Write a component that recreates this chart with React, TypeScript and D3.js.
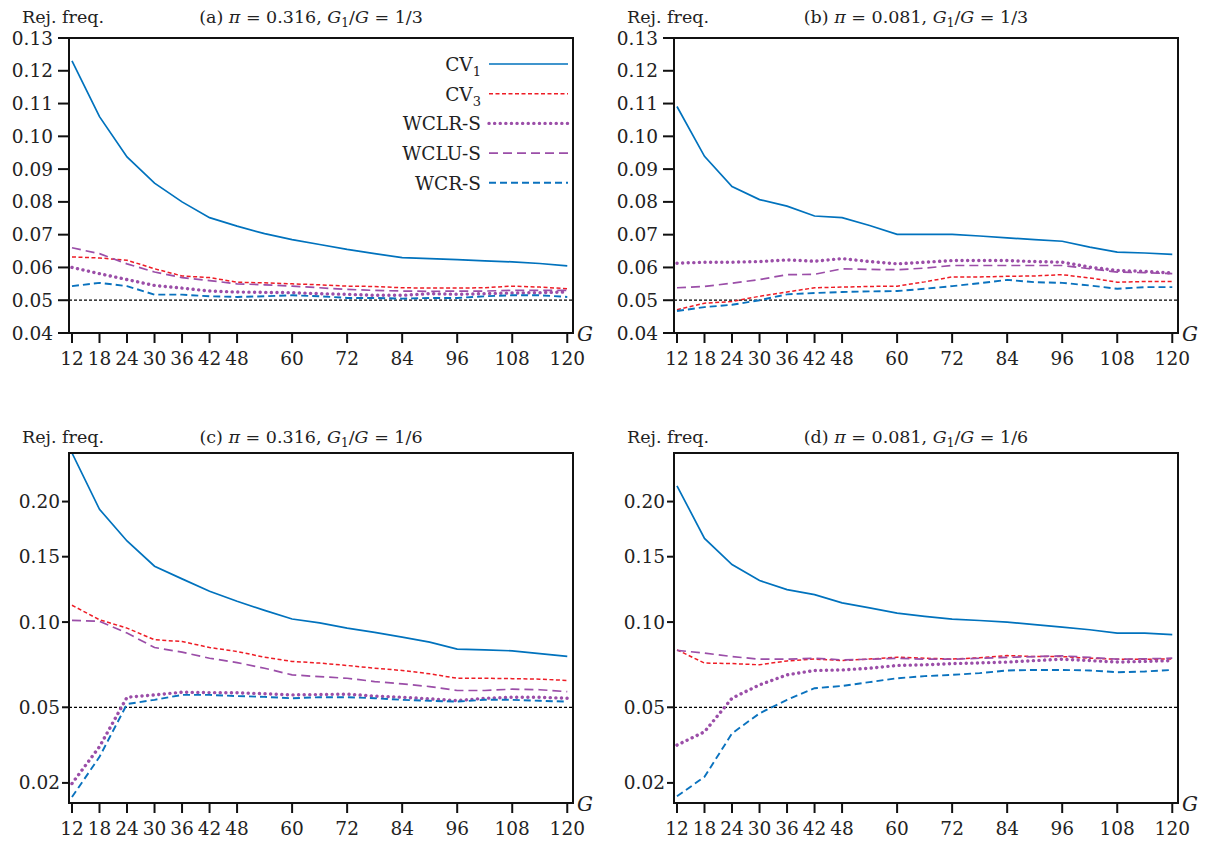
import React from "react";
import * as d3 from "d3";

const G = [12, 18, 24, 30, 36, 42, 48, 54, 60, 66, 72, 78, 84, 90, 96, 102, 108, 114, 120];
const xTicks = [12, 18, 24, 30, 36, 42, 48, 60, 72, 84, 96, 108, 120];
const yTicksTop = [0.04, 0.05, 0.06, 0.07, 0.08, 0.09, 0.1, 0.11, 0.12, 0.13];
const yTicksBottom = [0.02, 0.05, 0.1, 0.15, 0.2];
const seriesNames = ["CV1", "CV3", "WCLR-S", "WCLU-S", "WCR-S"];

// panel (a)
const aCV1 = [0.123, 0.106, 0.0937, 0.0857, 0.08, 0.0752, 0.0726, 0.0703, 0.0685, 0.067, 0.0655, 0.0642, 0.063, 0.0627, 0.0624, 0.062, 0.0617, 0.0612, 0.0605];
const aCV3 = [0.0632, 0.0629, 0.0622, 0.0596, 0.0574, 0.0569, 0.0555, 0.0553, 0.055, 0.0547, 0.0543, 0.0542, 0.0538, 0.0537, 0.0537, 0.0538, 0.0543, 0.054, 0.0535];
const aWCLR = [0.06, 0.0581, 0.0563, 0.0545, 0.0537, 0.0528, 0.0525, 0.0524, 0.0523, 0.052, 0.0518, 0.0515, 0.0515, 0.052, 0.0518, 0.052, 0.0522, 0.0523, 0.0525];
const aWCLU = [0.066, 0.0642, 0.0611, 0.0586, 0.0569, 0.056, 0.055, 0.0547, 0.0543, 0.0538, 0.0533, 0.053, 0.0528, 0.0527, 0.0528, 0.0528, 0.053, 0.053, 0.053];
const aWCR = [0.0543, 0.0553, 0.0543, 0.0517, 0.0517, 0.0512, 0.051, 0.0512, 0.0515, 0.0512, 0.0507, 0.0507, 0.0505, 0.0507, 0.0507, 0.0512, 0.0515, 0.0515, 0.051];
// panel (b)
const bCV1 = [0.1091, 0.0939, 0.0847, 0.0807, 0.0787, 0.0757, 0.0752, 0.0728, 0.0701, 0.0701, 0.0701, 0.0696, 0.069, 0.0685, 0.068, 0.0662, 0.0647, 0.0644, 0.064];
const bCV3 = [0.0471, 0.0491, 0.0496, 0.0512, 0.0525, 0.0538, 0.054, 0.0542, 0.0543, 0.0556, 0.0571, 0.0571, 0.0573, 0.0574, 0.0578, 0.0568, 0.0555, 0.0557, 0.0557];
const bWCLR = [0.0613, 0.0616, 0.0616, 0.0618, 0.0623, 0.0619, 0.0627, 0.0618, 0.0611, 0.0616, 0.0621, 0.0621, 0.0621, 0.0618, 0.0616, 0.0601, 0.0591, 0.0588, 0.0583];
const bWCLU = [0.0538, 0.0542, 0.0552, 0.0563, 0.0578, 0.0579, 0.0596, 0.0594, 0.0593, 0.0598, 0.0606, 0.0606, 0.0606, 0.0606, 0.0606, 0.0596, 0.0586, 0.0584, 0.0581];
const bWCR = [0.0467, 0.0479, 0.0486, 0.05, 0.0518, 0.0522, 0.0525, 0.0527, 0.0528, 0.0535, 0.0543, 0.0552, 0.0562, 0.0555, 0.0553, 0.0545, 0.0535, 0.054, 0.054];
// panel (c)
const cCV1 = [0.25, 0.1926, 0.1635, 0.1421, 0.1319, 0.1223, 0.1148, 0.1082, 0.1021, 0.0994, 0.0959, 0.093, 0.0899, 0.0867, 0.0823, 0.0818, 0.0812, 0.0795, 0.0778];
const cCV3 = [0.1119, 0.1016, 0.0959, 0.0882, 0.0871, 0.0833, 0.0808, 0.0773, 0.0748, 0.0738, 0.0724, 0.0708, 0.0695, 0.0676, 0.0651, 0.0651, 0.0649, 0.0646, 0.0639];
const cWCLR = [0.0198, 0.0327, 0.055, 0.0562, 0.0576, 0.0574, 0.0573, 0.0568, 0.0562, 0.0564, 0.0566, 0.0556, 0.055, 0.0542, 0.0533, 0.0545, 0.055, 0.055, 0.0545];
const cWCLU = [0.1012, 0.1005, 0.0926, 0.0833, 0.0804, 0.0767, 0.0741, 0.0708, 0.067, 0.066, 0.0651, 0.0633, 0.062, 0.0606, 0.0585, 0.0585, 0.0592, 0.0589, 0.0579];
const cWCR = [0.0159, 0.0288, 0.0516, 0.0537, 0.0562, 0.0562, 0.0556, 0.0552, 0.0545, 0.055, 0.055, 0.0545, 0.0537, 0.0532, 0.0528, 0.0537, 0.0537, 0.0532, 0.0528];
// panel (d)
const dCV1 = [0.2156, 0.1658, 0.1435, 0.1306, 0.1236, 0.1198, 0.1136, 0.11, 0.1063, 0.104, 0.1021, 0.1011, 0.1, 0.0982, 0.0966, 0.0948, 0.0926, 0.0926, 0.0915];
const dCV3 = [0.0818, 0.0738, 0.0735, 0.0728, 0.0751, 0.0762, 0.0753, 0.0762, 0.0773, 0.0767, 0.0762, 0.077, 0.0783, 0.0777, 0.0777, 0.0767, 0.0761, 0.0761, 0.0762];
const dWCLR = [0.0333, 0.0388, 0.0545, 0.0615, 0.067, 0.0695, 0.0698, 0.0708, 0.0724, 0.0728, 0.0735, 0.0739, 0.0744, 0.0753, 0.0761, 0.0753, 0.0744, 0.0748, 0.0753];
const dWCLU = [0.0815, 0.0798, 0.0777, 0.0761, 0.0761, 0.0767, 0.0757, 0.0761, 0.0767, 0.0761, 0.0761, 0.0767, 0.0772, 0.0777, 0.0781, 0.0772, 0.0761, 0.0763, 0.0767];
const dWCR = [0.0161, 0.0219, 0.0381, 0.0471, 0.0537, 0.0597, 0.0609, 0.063, 0.0651, 0.0663, 0.067, 0.068, 0.0695, 0.0698, 0.0698, 0.0695, 0.0685, 0.0689, 0.0698];

const styles = [
  { color: "#0072bd", width: 1.7, dash: "none", cap: "butt" },
  { color: "#ee1c25", width: 1.5, dash: "4 2.5", cap: "butt" },
  { color: "#9b4ea8", width: 3.4, dash: "0.1 5.5", cap: "round" },
  { color: "#9b4ea8", width: 1.7, dash: "9 5", cap: "butt" },
  { color: "#0a72be", width: 1.9, dash: "7 4", cap: "butt" },
];

const FONT = "'DejaVu Serif', 'Liberation Serif', serif";

type PanelProps = {
  left: number; right: number; top: number; bottom: number;
  label: string; pi: string; ratio: string; bottomRow: boolean;
  data: number[][]; legend?: boolean;
};

function Panel(p: PanelProps) {
  const x = d3.scaleLinear().domain([11.35, 121.25]).range([p.left, p.right]);
  const y = p.bottomRow
    ? d3.scaleSqrt().domain([0.0143, 0.25]).range([p.bottom, p.top])
    : d3.scaleLinear().domain([0.04, 0.13]).range([p.bottom, p.top]);
  const yTicks = p.bottomRow ? yTicksBottom : yTicksTop;
  const fmt = d3.format(".2f");
  const line = d3.line<number>().x((_, i) => x(G[i])).y((v) => y(v));
  const cx = (p.left + p.right) / 2;
  const ty = p.top - (p.bottomRow ? 10 : 15);
  return (
    <g fontFamily={FONT} fill="#222">
      <text x={p.left - 47} y={ty} fontSize={17.5}>Rej. freq.</text>
      <text x={cx - 10} y={ty} fontSize={17.5} textAnchor="middle">
        ({p.label}) <tspan fontStyle="italic">π</tspan> = {p.pi}, <tspan fontStyle="italic">G</tspan>
        <tspan fontSize={12} dy={4}>1</tspan><tspan dy={-4}>/</tspan><tspan fontStyle="italic">G</tspan> = {p.ratio}
      </text>
      <defs>
        <clipPath id={`clip-${p.label}`}>
          <rect x={p.left} y={p.top} width={p.right - p.left} height={p.bottom - p.top} />
        </clipPath>
      </defs>
      <line x1={p.left} x2={p.right} y1={y(0.05)} y2={y(0.05)} stroke="#000" strokeWidth={1.3} strokeDasharray="3 2" />
      <g clipPath={`url(#clip-${p.label})`}>
        {p.data.map((d, i) => (
          <path key={i} d={line(d) || ""} fill="none" stroke={styles[i].color} strokeWidth={styles[i].width}
            strokeDasharray={styles[i].dash} strokeLinecap={styles[i].cap as any} />
        ))}
      </g>
      <rect x={p.left} y={p.top} width={p.right - p.left} height={p.bottom - p.top} fill="none" stroke="#111" strokeWidth={2} />
      {yTicks.map((t) => (
        <g key={t}>
          <line x1={p.left - (p.bottomRow ? 7 : 11)} x2={p.left} y1={y(t)} y2={y(t)} stroke="#111" strokeWidth={2} />
          <text x={p.left - (p.bottomRow ? 9 : 16)} y={y(t) + 6.5} fontSize={18.5} textAnchor="end">{fmt(t)}</text>
        </g>
      ))}
      {xTicks.map((t) => (
        <g key={t}>
          <line x1={x(t)} x2={x(t)} y1={p.bottom} y2={p.bottom + 10} stroke="#111" strokeWidth={2} />
          <text x={x(t)} y={p.bottom + 32} fontSize={18.5} textAnchor="middle">{t}</text>
        </g>
      ))}
      <text x={p.right + 4} y={p.bottom + 8} fontSize={20} fontStyle="italic">G</text>
      {p.legend && seriesNames.map((n, i) => {
        const ly = p.top + 26 + i * 29.7;
        const sub = n.startsWith("CV");
        return (
          <g key={n}>
            <text x={p.left + 412} y={ly + 7} fontSize={18.5} textAnchor="end">
              {sub ? <>CV<tspan fontSize={13} dy={5}>{n.slice(2)}</tspan></> : n}
            </text>
            <line x1={p.left + 420} x2={p.left + 499} y1={ly} y2={ly} stroke={styles[i].color}
              strokeWidth={styles[i].width} strokeDasharray={styles[i].dash} strokeLinecap={styles[i].cap as any} />
          </g>
        );
      })}
    </g>
  );
}

export default function App() {
  return (
    <svg width={1210} height={844} style={{ display: "block", margin: "-8px 0 0 -8px" }} viewBox="0 0 1210 844">
      <rect width={1210} height={844} fill="#fff" />
      <Panel left={69} right={573} top={38} bottom={333} label="a" pi="0.316" ratio="1/3" bottomRow={false}
        data={[aCV1, aCV3, aWCLR, aWCLU, aWCR]} legend />
      <Panel left={674} right={1178} top={38} bottom={333} label="b" pi="0.081" ratio="1/3" bottomRow={false}
        data={[bCV1, bCV3, bWCLR, bWCLU, bWCR]} />
      <Panel left={69} right={573} top={453} bottom={803} label="c" pi="0.316" ratio="1/6" bottomRow
        data={[cCV1, cCV3, cWCLR, cWCLU, cWCR]} />
      <Panel left={674} right={1178} top={453} bottom={803} label="d" pi="0.081" ratio="1/6" bottomRow
        data={[dCV1, dCV3, dWCLR, dWCLU, dWCR]} />
    </svg>
  );
}
